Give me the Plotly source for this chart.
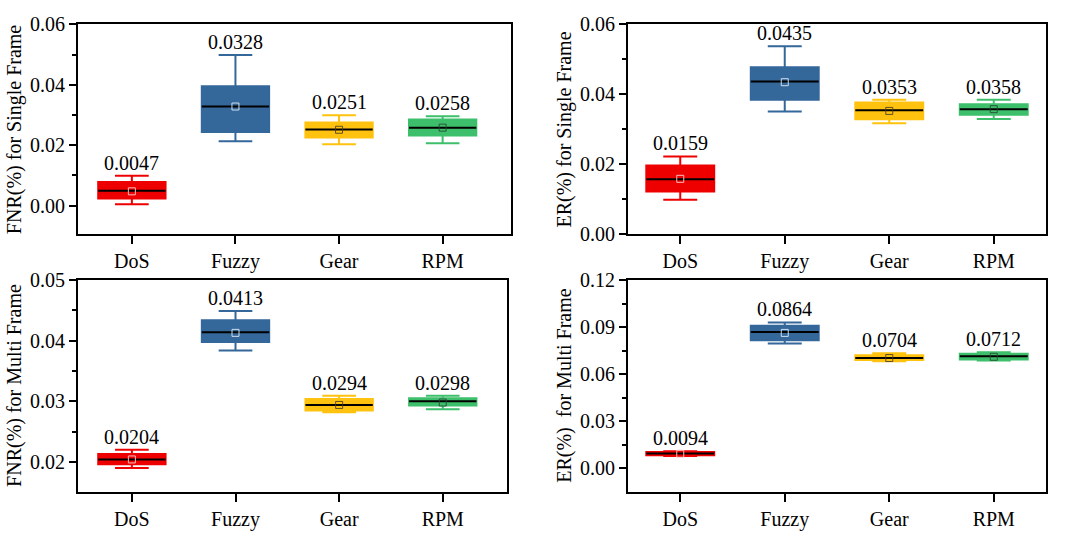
import plotly.graph_objects as go

categories = ["DoS", "Fuzzy", "Gear", "RPM"]
colors = ["#EE0000", "#34679A", "#FFC20E", "#3DBF6B"]
mean_marker_colors = ["rgba(255,200,200,0.95)", "rgba(215,228,240,0.95)",
                      "rgba(70,60,40,0.85)", "rgba(40,70,50,0.85)"]

# FNR single frame
fnr_single_low = [0.0004, 0.0213, 0.0203, 0.0206]
fnr_single_q1 = [0.0023, 0.0244, 0.0225, 0.0232]
fnr_single_med = [0.0049, 0.0328, 0.0252, 0.0258]
fnr_single_q3 = [0.0078, 0.0395, 0.0275, 0.0285]
fnr_single_high = [0.0099, 0.0499, 0.0299, 0.0296]
fnr_single_mean = [0.0047, 0.0328, 0.0251, 0.0258]

# ER single frame
er_single_low = [0.0099, 0.0351, 0.0318, 0.0330]
er_single_q1 = [0.0123, 0.0385, 0.0329, 0.0342]
er_single_med = [0.0158, 0.0437, 0.0355, 0.0358]
er_single_q3 = [0.0197, 0.0478, 0.0377, 0.0372]
er_single_high = [0.0223, 0.0538, 0.0385, 0.0385]
er_single_mean = [0.0159, 0.0435, 0.0353, 0.0358]

# FNR multi frame
fnr_multi_low = [0.0190, 0.0384, 0.0282, 0.0287]
fnr_multi_q1 = [0.0196, 0.0398, 0.0285, 0.0293]
fnr_multi_med = [0.0204, 0.0414, 0.0294, 0.0300]
fnr_multi_q3 = [0.0213, 0.0434, 0.0304, 0.0305]
fnr_multi_high = [0.0220, 0.0449, 0.0309, 0.0309]
fnr_multi_mean = [0.0204, 0.0413, 0.0294, 0.0298]

# ER multi frame
er_multi_low = [0.0080, 0.0796, 0.0684, 0.0688]
er_multi_q1 = [0.0085, 0.0817, 0.0692, 0.0694]
er_multi_med = [0.0096, 0.0870, 0.0704, 0.0715]
er_multi_q3 = [0.0105, 0.0909, 0.0721, 0.0731]
er_multi_high = [0.0110, 0.0931, 0.0735, 0.0741]
er_multi_mean = [0.0094, 0.0864, 0.0704, 0.0712]

panels = [
    dict(low=fnr_single_low, q1=fnr_single_q1, med=fnr_single_med, q3=fnr_single_q3,
         high=fnr_single_high, mean=fnr_single_mean, title="FNR(%) for Single Frame",
         xdom=[78 / 1067, 511 / 1067], ydom=[1 - 233 / 539, 1 - 14 / 539],
         xrange=[-0.52, 3.66], yrange=[-0.0096, 0.06], dtick=0.02),
    dict(low=er_single_low, q1=er_single_q1, med=er_single_med, q3=er_single_q3,
         high=er_single_high, mean=er_single_mean, title="ER(%) for Single Frame",
         xdom=[628 / 1067, 1046 / 1067], ydom=[1 - 233 / 539, 1 - 14 / 539],
         xrange=[-0.5, 3.5], yrange=[0, 0.06], dtick=0.02),
    dict(low=fnr_multi_low, q1=fnr_multi_q1, med=fnr_multi_med, q3=fnr_multi_q3,
         high=fnr_multi_high, mean=fnr_multi_mean, title="FNR(%) for Multi Frame",
         xdom=[78 / 1067, 507 / 1067], ydom=[1 - 501 / 539, 1 - 280 / 539],
         xrange=[-0.52, 3.62], yrange=[0.0151, 0.0501], dtick=0.01),
    dict(low=er_multi_low, q1=er_multi_q1, med=er_multi_med, q3=er_multi_q3,
         high=er_multi_high, mean=er_multi_mean, title="ER(%)\u00a0 for Multi Frame",
         xdom=[628 / 1067, 1046 / 1067], ydom=[1 - 501 / 539, 1 - 280 / 539],
         xrange=[-0.5, 3.5], yrange=[-0.0147, 0.1204], dtick=0.03),
]

FONT = "Liberation Serif"
BOX_W = 0.65

fig = go.Figure()
layout = dict(
    width=1067, height=539, margin=dict(l=0, r=0, t=0, b=0),
    paper_bgcolor="white", plot_bgcolor="white",
    font=dict(family=FONT, size=20, color="black"),
    showlegend=False, boxmode="overlay", annotations=[],
)

for k, p in enumerate(panels):
    n = k + 1
    xa = "x" if n == 1 else f"x{n}"
    ya = "y" if n == 1 else f"y{n}"
    idx = list(range(len(categories)))
    for i in idx:
        fig.add_trace(go.Box(
            x=[i], q1=[p["q1"][i]], median=[p["med"][i]], q3=[p["q3"][i]],
            lowerfence=[p["low"][i]], upperfence=[p["high"][i]],
            width=BOX_W, whiskerwidth=0.5, boxpoints=False,
            fillcolor=colors[i], line=dict(color=colors[i], width=2),
            xaxis=xa, yaxis=ya, hoverinfo="skip"))
        fig.add_trace(go.Box(
            x=[i], q1=[p["med"][i]], median=[p["med"][i]], q3=[p["med"][i]],
            lowerfence=[p["med"][i]], upperfence=[p["med"][i]],
            width=BOX_W, whiskerwidth=0, boxpoints=False,
            fillcolor="rgba(0,0,0,0)", line=dict(color="black", width=2),
            xaxis=xa, yaxis=ya, hoverinfo="skip"))
        layout["annotations"].append(dict(
            x=i, y=p["high"][i], xref=xa, yref=ya, text=f"{p['mean'][i]:.4f}",
            showarrow=False, yanchor="bottom", xanchor="center", yshift=0,
            font=dict(family=FONT, size=20, color="black")))
    fig.add_trace(go.Scatter(
        x=idx, y=p["mean"], mode="markers", xaxis=xa, yaxis=ya, hoverinfo="skip",
        marker=dict(symbol="square-open", size=7, color=mean_marker_colors,
                    line=dict(width=1))))

    xkey = "xaxis" if n == 1 else f"xaxis{n}"
    ykey = "yaxis" if n == 1 else f"yaxis{n}"
    layout[xkey] = dict(
        domain=p["xdom"], anchor=ya, range=p["xrange"], tickmode="array",
        tickvals=idx, ticktext=categories, ticks="outside", ticklen=8, tickwidth=2,
        tickcolor="black", showline=True, linewidth=2, linecolor="black", mirror=True,
        showgrid=False, zeroline=False, tickfont=dict(family=FONT, size=20))
    layout[ykey] = dict(
        domain=p["ydom"], anchor=xa, range=p["yrange"], tick0=0, dtick=p["dtick"],
        tickformat=".2f", ticks="outside", ticklen=7, tickwidth=2, tickcolor="black",
        minor=dict(ticks="outside", ticklen=4, tickwidth=2, tickcolor="black",
                   tick0=0, dtick=p["dtick"] / 2),
        showline=True, linewidth=2, linecolor="black", mirror=True,
        showgrid=False, zeroline=False, tickfont=dict(family=FONT, size=20),
        title=dict(text=p["title"], font=dict(family=FONT, size=20), standoff=3))

fig.update_layout(**layout)
fig.write_html("out.html")
